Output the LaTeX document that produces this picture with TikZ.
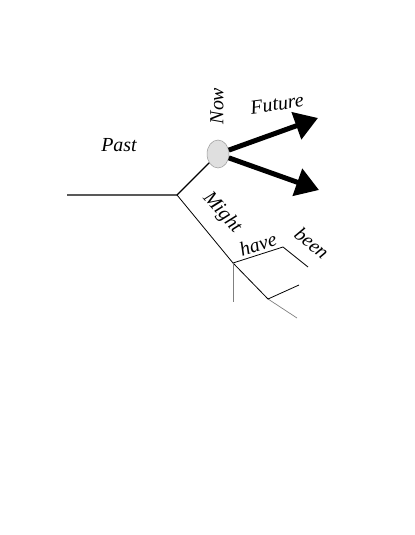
\documentclass[tikz,border=0pt]{standalone}
\usepackage{fontspec}
\setmainfont{Liberation Serif}
\usepackage{tikz}
\usetikzlibrary{arrows.meta, positioning, shapes.geometric}

\begin{document}
\begin{tikzpicture}[
      x=1bp, y=-1bp,
      timeline/.style={line width=1.3bp},
      branch/.style={line width=0.8bp},
      faint/.style={line width=0.7bp, gray},
      future/.style={line width=5bp, -{Triangle[length=23bp, width=28bp]}},
      word/.style={font=\fontsize{20}{24}\selectfont\itshape, inner sep=0pt}
    ]
      \useasboundingbox (0,0) rectangle (414,535);

      % the present moment
      \node[ellipse, draw=gray!80, fill=gray!25, line width=0.5bp,
            minimum width=22bp, minimum height=28bp, inner sep=0pt] (now) at (218,154) {};

      \coordinate (start) at (67,195);
      \coordinate (fork) at (177,195);
      \coordinate (up) at (318,118);
      \coordinate (down) at (319,190);

      \draw[timeline] (start) -- (fork) -- (now);
      \draw[future] (now) -- (up);
      \draw[future] (now) -- (down);

      % what might have been
      \coordinate (m1) at (233,263);
      \coordinate (m2) at (268,299);
      \coordinate (m3) at (297,318);
      \coordinate (m4) at (233,302);
      \coordinate (h1) at (283,247);
      \coordinate (h2) at (308,267);
      \coordinate (b1) at (299,285);

      \draw[branch] (fork) -- (m1) -- (m2);
      \draw[faint] (m2) -- (m3);
      \draw[faint] (m1) -- (m4);
      \draw[branch] (m1) -- (h1) -- (h2);
      \draw[branch] (m2) -- (b1);

      \node[word] (past) at (119,145) {Past};
      \node[word, rotate=90] (nowlabel) at (217,106) {Now};
      \node[word, rotate=8] (fut) at (277,104) {Future};
      \node[word, rotate=-48] (might) at (222,213) {Might};
      \node[word, rotate=18] (have) at (258,244) {have};
      \node[word, rotate=-40] (been) at (312,243) {been};
    \end{tikzpicture}
\end{document}
